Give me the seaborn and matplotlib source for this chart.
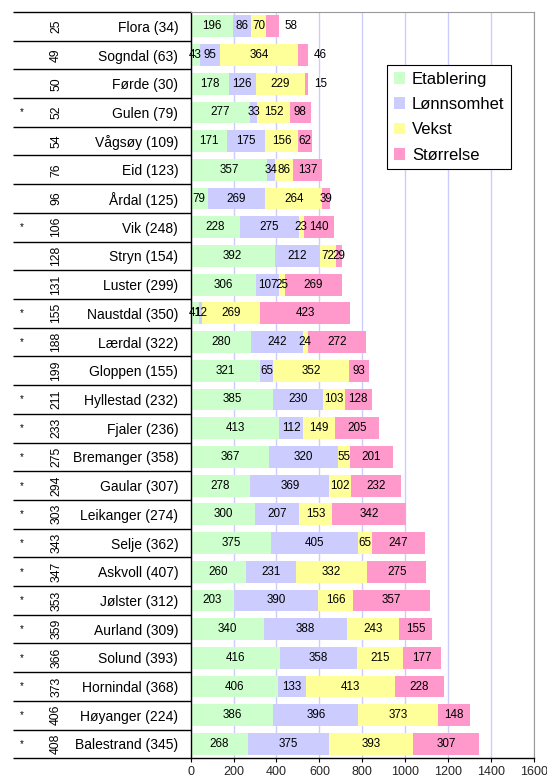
import matplotlib
matplotlib.use("Agg")
import matplotlib.pyplot as plt
import matplotlib.transforms as mtransforms
from matplotlib.patches import Patch
import numpy as np
import pandas as pd
import seaborn as sns

# Municipalities (top to bottom), their rank, index in parentheses and star flag
kommuner = ["Flora (34)", "Sogndal (63)", "Førde (30)", "Gulen (79)", "Vågsøy (109)",
            "Eid (123)", "Årdal (125)", "Vik (248)", "Stryn (154)", "Luster (299)",
            "Naustdal (350)", "Lærdal (322)", "Gloppen (155)", "Hyllestad (232)",
            "Fjaler (236)", "Bremanger (358)", "Gaular (307)", "Leikanger (274)",
            "Selje (362)", "Askvoll (407)", "Jølster (312)", "Aurland (309)",
            "Solund (393)", "Hornindal (368)", "Høyanger (224)", "Balestrand (345)"]
rangering = [25, 49, 50, 52, 54, 76, 96, 106, 128, 131, 155, 188, 199, 211, 233,
             275, 294, 303, 343, 347, 353, 359, 366, 373, 406, 408]
stjerne = ["", "", "", "*", "", "", "", "*", "", "", "*", "*", "", "*", "*",
           "*", "*", "*", "*", "*", "*", "*", "*", "*", "*", "*"]

# Score components
etablering = [196, 43, 178, 277, 171, 357, 79, 228, 392, 306, 41, 280, 321, 385,
              413, 367, 278, 300, 375, 260, 203, 340, 416, 406, 386, 268]
lonnsomhet = [86, 95, 126, 33, 175, 34, 269, 275, 212, 107, 12, 242, 65, 230,
              112, 320, 369, 207, 405, 231, 390, 388, 358, 133, 396, 375]
vekst = [70, 364, 229, 152, 156, 86, 264, 23, 72, 25, 269, 24, 352, 103,
         149, 55, 102, 153, 65, 332, 166, 243, 215, 413, 373, 393]
storrelse = [58, 46, 15, 98, 62, 137, 39, 140, 29, 269, 423, 272, 93, 128,
             205, 201, 232, 342, 247, 275, 357, 155, 177, 228, 148, 307]

serier = ["Etablering", "Lønnsomhet", "Vekst", "Størrelse"]
farger = ["#ccffcc", "#ccccff", "#ffff99", "#ff99cc"]

df = pd.DataFrame({"kommune": kommuner, "Etablering": etablering,
                   "Lønnsomhet": lonnsomhet, "Vekst": vekst, "Størrelse": storrelse})
cum = df[serier].cumsum(axis=1)
n = len(df)

sns.set_theme(style="white")
plt.rcParams["font.family"] = ["Liberation Sans", "DejaVu Sans"]

fig = plt.figure(figsize=(5.47, 7.78), dpi=100)
ax = fig.add_axes([0.3486, 0.02532, 0.6274, 0.9593])

# Stacked bars: draw cumulative totals from the outermost segment inwards
for k in range(len(serier) - 1, -1, -1):
    sns.barplot(x=cum[serier[k]], y=df["kommune"], color=farger[k], orient="h",
                width=0.76, linewidth=0, saturation=1, ax=ax, zorder=2)

ax.set_xlim(0, 1600)
ax.set_ylim(n - 0.5, -0.5)
ax.set_xticks(np.arange(0, 1601, 200))
ax.set_xlabel("")
ax.set_ylabel("")
ax.set_axisbelow(True)
ax.grid(axis="x", color="#ccccff", lw=1, zorder=0)
ax.grid(axis="y", visible=False)

ax.tick_params(axis="x", which="both", bottom=True, length=3, width=0.8,
               color="black", labelsize=9, pad=2.5, direction="out")
ax.tick_params(axis="y", length=0, labelsize=10, pad=9)
for lbl in ax.get_yticklabels():
    lbl.set_color("black")

for side in ["left", "bottom"]:
    ax.spines[side].set_color("black")
    ax.spines[side].set_linewidth(1)
for side in ["top", "right"]:
    ax.spines[side].set_color("#999999")
    ax.spines[side].set_linewidth(0.8)

# Value labels in the middle of each segment
for i in range(n):
    start = 0
    total = cum.loc[i, serier[-1]]
    for k, s in enumerate(serier):
        v = df.loc[i, s]
        if k == len(serier) - 1 and v < 60 and total < 600:
            ax.annotate(str(v), (total, i), xytext=(4, 0), textcoords="offset points",
                        ha="left", va="center", fontsize=8.4, color="black")
        else:
            ax.text(start + v / 2, i, str(v), ha="center", va="center",
                    fontsize=8.4, color="black", zorder=3)
        start += v

# Table part left of the axis: row separators, rank and star columns
trans = mtransforms.blended_transform_factory(ax.transAxes, ax.transData)
for j in range(n + 1):
    ax.plot([-0.518, 0], [j - 0.5, j - 0.5], transform=trans, color="black",
            lw=1, clip_on=False, solid_capstyle="butt")
for i in range(n):
    ax.text(-0.392, i, str(rangering[i]), transform=trans, rotation=90,
            ha="center", va="center", fontsize=8.8, color="black")
    if stjerne[i]:
        ax.text(-0.493, i, stjerne[i], transform=trans, ha="center", va="center",
                fontsize=7, color="black")

handles = [Patch(facecolor=c, edgecolor="none") for c in farger]
leg = ax.legend(handles, serier, loc="upper left",
                bbox_to_anchor=(387 / 547, 1 - 65 / 778), bbox_transform=fig.transFigure,
                borderaxespad=0, fontsize=12, frameon=True, fancybox=False,
                framealpha=1, edgecolor="black", handlelength=0.7, handleheight=0.7,
                handletextpad=0.4, labelspacing=0.62, borderpad=0.4)
leg.get_frame().set_linewidth(0.8)
for t in leg.get_texts():
    t.set_color("black")

fig.savefig("out.png", dpi=100)
